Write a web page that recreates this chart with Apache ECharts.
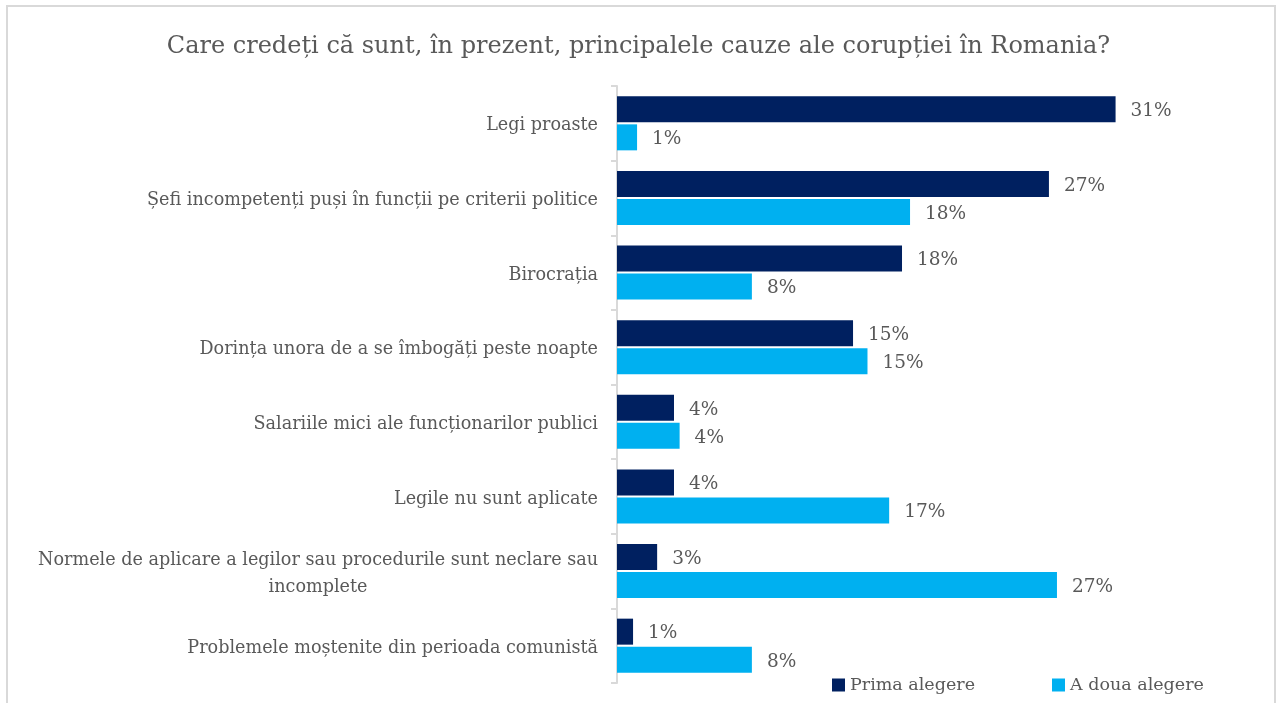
<!DOCTYPE html>
<html>
<head>
<meta charset="utf-8">
<script src="https://cdn.jsdelivr.net/npm/echarts@6/dist/echarts.min.js"></script>
<style>html,body{margin:0;padding:0;background:#fff}#c{width:1277px;height:703px}</style>
</head>
<body>
<div id="c"></div>
<script>
const titleText = 'Care credeți că sunt, în prezent, principalele cauze ale corupției în Romania?';
const categories = [
  'Legi proaste',
  'Șefi incompetenți puși în funcții pe criterii politice',
  'Birocrația',
  'Dorința unora de a se îmbogăți peste noapte',
  'Salariile mici ale funcționarilor publici',
  'Legile nu sunt aplicate',
  'Normele de aplicare a legilor sau procedurile sunt neclare sau\nincomplete',
  'Problemele moștenite din perioada comunistă'
];
const seriesNames = ['Prima alegere', 'A doua alegere'];
const primaValues = [31.05, 26.9, 17.75, 14.7, 3.55, 3.55, 2.5, 1.0];
const primaLabels = ['31%', '27%', '18%', '15%', '4%', '4%', '3%', '1%'];
const douaValues = [1.25, 18.25, 8.4, 15.6, 3.9, 16.95, 27.4, 8.4];
const douaLabels = ['1%', '18%', '8%', '15%', '4%', '17%', '27%', '8%'];

const FONT = 'DejaVu Serif';
const GREY = '#595959';
const chart = echarts.init(document.getElementById('c'), null, {renderer: 'canvas'});
chart.setOption({
  backgroundColor: '#ffffff',
  animation: false,
  textStyle: {fontFamily: FONT},
  title: {
    text: titleText, left: 'center', top: 30,
    textStyle: {fontFamily: FONT, fontSize: 24, fontWeight: 'normal', color: GREY}
  },
  graphic: [{
    type: 'rect', shape: {x: 7, y: 6, width: 1268, height: 720},
    style: {fill: 'none', stroke: '#d9d9d9', lineWidth: 2}, silent: true
  }],
  legend: {
    data: seriesNames, left: 827, top: 671, itemWidth: 13, itemHeight: 13, itemGap: 77,
    icon: 'rect',
    textStyle: {fontFamily: FONT, fontSize: 17.5, color: GREY}
  },
  grid: {left: 617, top: 86, width: 562, height: 597, containLabel: false},
  xAxis: {
    type: 'value', min: 0, max: 35, show: false
  },
  yAxis: {
    type: 'category', inverse: true, data: categories,
    axisLine: {show: true, lineStyle: {color: '#d9d9d9', width: 2}},
    axisTick: {show: true, length: 6, lineStyle: {color: '#d9d9d9', width: 2}},
    axisLabel: {
      margin: 19, fontFamily: FONT, fontSize: 17.6, color: GREY, align: 'right',
      padding: [5, 0, 0, 0],
      formatter: function (v) {
        if (v.indexOf('\n') >= 0) {
          return v.split('\n').map(function (l) { return '{c|' + l + '}'; }).join('\n');
        }
        return v;
      },
      rich: {c: {align: 'center', fontFamily: FONT, fontSize: 17.6, color: GREY, lineHeight: 27}}
    }
  },
  series: [
    {
      name: seriesNames[0], type: 'bar', data: primaValues, barWidth: 26, barGap: '8%',
      itemStyle: {color: '#002060'},
      label: {
        show: true, position: 'right', distance: 15, offset: [0, 2], fontFamily: FONT, fontSize: 18.5, color: GREY,
        formatter: function (p) { return primaLabels[p.dataIndex]; }
      }
    },
    {
      name: seriesNames[1], type: 'bar', data: douaValues, barWidth: 26, barGap: '8%',
      itemStyle: {color: '#00B0F0'},
      label: {
        show: true, position: 'right', distance: 15, offset: [0, 2], fontFamily: FONT, fontSize: 18.5, color: GREY,
        formatter: function (p) { return douaLabels[p.dataIndex]; }
      }
    }
  ]
});
</script>
</body>
</html>
